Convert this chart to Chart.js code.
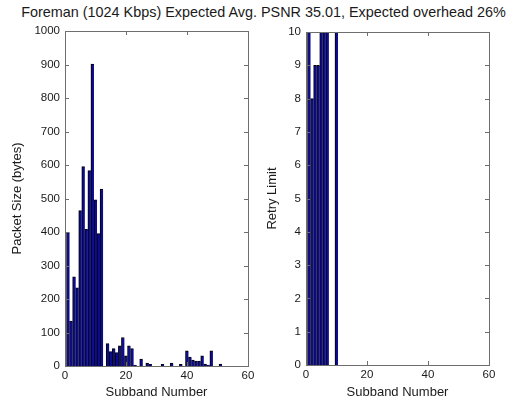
<!DOCTYPE html>
<html>
<head>
<meta charset="utf-8">
<script src="https://cdn.jsdelivr.net/npm/chart.js@4/dist/chart.umd.min.js"></script>
<style>
  body { margin:0; width:527px; height:404px; background:#fff; position:relative; overflow:hidden; font-family:"Liberation Sans", Arial, sans-serif; }
  #title { position:absolute; left:0; top:4px; width:527px; text-align:center; font-size:14.4px; color:#1a1a1a; white-space:nowrap; }
  canvas { position:absolute; top:0; }
  #left { left:0; }
  #right { left:262px; }
</style>
</head>
<body>
<div id="title">Foreman (1024 Kbps) Expected Avg. PSNR 35.01, Expected overhead 26%</div>
<canvas id="left" width="262" height="404"></canvas>
<canvas id="right" width="265" height="404"></canvas>
<script>
// subband index 1..51
const subbands = [];
for (let i = 1; i <= 51; i++) subbands.push(i);

const packetSize = [
  399, 134, 266, 233, 464, 595, 408, 583, 901, 496,
  395, 528, 0, 67, 43, 52, 40, 60, 85, 30,
  60, 52, 3, 0, 21, 0, 9, 5, 0, 0,
  0, 5, 0, 0, 9, 0, 0, 5, 0, 45,
  27, 18, 15, 15, 30, 6, 3, 45, 0, 0,
  6
];

const retryLimit = [
  10, 8, 9, 9, 10, 10, 10, 0, 0, 10,
  0, 0, 0, 0, 0, 0, 0, 0, 0, 0,
  0, 0, 0, 0, 0, 0, 0, 0, 0, 0,
  0, 0, 0, 0, 0, 0, 0, 0, 0, 0,
  0, 0, 0, 0, 0, 0, 0, 0, 0, 0,
  0
];

const xTicks = [0, 20, 40, 60];

const textColor = "#1a1a1a";
const boxColor = "#6e6e6e";
const fontFam = "'Liberation Sans', Arial, sans-serif";

// matlab style box with inward ticks
const boxPlugin = {
  id: "box",
  afterDatasetsDraw(chart) {
    const c = chart.ctx, a = chart.chartArea;
    const xs = chart.scales.x, ys = chart.scales.y;
    c.save();
    c.strokeStyle = boxColor;
    c.lineWidth = 1;
    c.beginPath();
    xs.ticks.forEach(t => {
      const px = Math.round(xs.getPixelForValue(t.value)) + 0.5;
      c.moveTo(px, a.bottom); c.lineTo(px, a.bottom - 4);
      c.moveTo(px, a.top); c.lineTo(px, a.top + 4);
    });
    ys.ticks.forEach(t => {
      const py = Math.round(ys.getPixelForValue(t.value)) + 0.5;
      c.moveTo(a.left, py); c.lineTo(a.left + 4, py);
      c.moveTo(a.right, py); c.lineTo(a.right - 4, py);
    });
    c.stroke();
    c.strokeRect(Math.round(a.left) + 0.5, Math.round(a.top) + 0.5,
      Math.round(a.right - a.left), Math.round(a.bottom - a.top));
    c.restore();
  }
};

function makeChart(id, values, yMax, yStep, yTitle, pad, yWidth, titlePad) {
  return new Chart(document.getElementById(id), {
    type: "bar",
    data: {
      datasets: [{
        data: subbands.map((s, i) => ({ x: s, y: values[i] })),
        backgroundColor: "#0c0c8c",
        borderColor: "#000",
        borderWidth: { left: 1, top: 1, right: 0, bottom: 0 },
        borderSkipped: "bottom",
        barPercentage: 1,
        categoryPercentage: 1
      }]
    },
    options: {
      responsive: false,
      animation: false,
      layout: { padding: pad },
      plugins: { legend: { display: false }, tooltip: { enabled: false } },
      scales: {
        x: {
          type: "linear",
          offset: false,
          min: 0, max: 60,
          afterBuildTicks: s => { s.ticks = xTicks.map(v => ({ value: v })); },
          afterFit: s => { s.height = pad.xh; },
          grid: { display: false, drawTicks: false, offset: false },
          border: { display: false },
          ticks: { color: textColor, padding: 3, font: { family: fontFam, size: 11.5 }, callback: v => String(v) },
          title: { display: true, text: "Subband Number", color: textColor, font: { family: fontFam, size: 13 }, padding: { top: 4, bottom: 4 } }
        },
        y: {
          min: 0, max: yMax,
          ticks: { stepSize: yStep, color: textColor, padding: 5, font: { family: fontFam, size: 11.5 }, callback: v => String(v) },
          afterFit: s => { s.width = yWidth; },
          grid: { display: false, drawTicks: false },
          border: { display: false },
          title: { display: true, text: yTitle, color: textColor, font: { family: fontFam, size: 13 }, padding: { top: titlePad, bottom: 0 } }
        }
      }
    },
    plugins: [boxPlugin]
  });
}

makeChart("left", packetSize, 1000, 100, "Packet Size (bytes)",
  { left: 3, top: 31, right: 14, bottom: 0, xh: 38 }, 62, 7);
makeChart("right", retryLimit, 10, 1, "Retry Limit",
  { left: 3, top: 32, right: 38, bottom: 0, xh: 39 }, 41, 0);
</script>
</body>
</html>
